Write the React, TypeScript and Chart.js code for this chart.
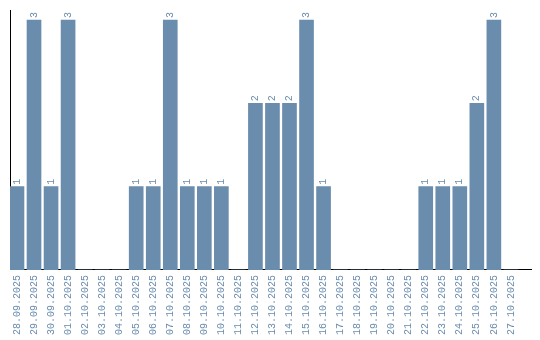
import React, { useEffect, useRef } from "react";
import { Chart, registerables } from "chart.js";

Chart.register(...registerables);

const categories: string[] = [
  "28.09.2025", "29.09.2025", "30.09.2025", "01.10.2025", "02.10.2025",
  "03.10.2025", "04.10.2025", "05.10.2025", "06.10.2025", "07.10.2025",
  "08.10.2025", "09.10.2025", "10.10.2025", "11.10.2025", "12.10.2025",
  "13.10.2025", "14.10.2025", "15.10.2025", "16.10.2025", "17.10.2025",
  "18.10.2025", "19.10.2025", "20.10.2025", "21.10.2025", "22.10.2025",
  "23.10.2025", "24.10.2025", "25.10.2025", "26.10.2025", "27.10.2025",
];

const counts: number[] = [
  1, 3, 1, 3, 0,
  0, 0, 1, 1, 3,
  1, 1, 1, 0, 2,
  2, 2, 3, 1, 0,
  0, 0, 0, 0, 1,
  1, 1, 2, 3, 0,
];

const BAR_COLOR = "#6a8cad";
const TEXT_COLOR = "#6a8cad";
const FONT = "'Liberation Mono', monospace";

const valueLabels = {
  id: "valueLabels",
  afterDatasetsDraw(chart: any) {
    const ctx = chart.ctx;
    const meta = chart.getDatasetMeta(0);
    ctx.save();
    ctx.fillStyle = TEXT_COLOR;
    ctx.font = `10px ${FONT}`;
    ctx.textAlign = "left";
    ctx.textBaseline = "middle";
    meta.data.forEach((bar: any, i: number) => {
      const v = counts[i];
      if (!v) return;
      ctx.save();
      ctx.translate(bar.x, bar.y - 2);
      ctx.rotate(-Math.PI / 2);
      ctx.fillText(String(v), 0, 0);
      ctx.restore();
    });
    ctx.restore();
  },
};

export default function App() {
  const ref = useRef<HTMLCanvasElement>(null);
  useEffect(() => {
    document.body.style.margin = "0";
    const chart = new Chart(ref.current!, {
      type: "bar",
      data: {
        datasets: [
          {
            data: counts.map((v, i) => ({ x: i, y: v })),
            backgroundColor: BAR_COLOR,
            borderWidth: 0,
            barThickness: 14,
          },
        ],
      },
      options: {
        animation: false,
        responsive: false,
        layout: { padding: { left: 10, top: 10, right: 9, bottom: 0 } },
        plugins: { legend: { display: false }, tooltip: { enabled: false } },
        scales: {
          x: {
            type: "linear",
            offset: false,
            min: -0.41,
            max: 30.18,
            afterBuildTicks: (scale: any) => {
              scale.ticks = scale.ticks.filter(
                (t: any) => Number.isInteger(t.value) && t.value >= 0 && t.value < categories.length
              );
            },
            grid: { display: false, drawTicks: false },
            border: { display: true, color: "#000", width: 1 },
            ticks: {
              stepSize: 1,
              autoSkip: false,
              includeBounds: false,
              maxRotation: 90,
              minRotation: 90,
              padding: 5,
              color: TEXT_COLOR,
              font: { family: FONT, size: 10 },
              callback: (value: any) =>
                Number.isInteger(value) && value >= 0 && value < categories.length
                  ? categories[value]
                  : "",
            },
          },
          y: {
            min: 0,
            max: 3.12,
            grid: { display: false, drawTicks: false },
            border: { display: true, color: "#000", width: 1 },
            ticks: { display: false },
          },
        },
      },
      plugins: [valueLabels],
    });
    return () => chart.destroy();
  }, []);
  return (
    <div style={{ position: "absolute", left: 0, top: 0, width: 540, height: 340 }}>
      <canvas ref={ref} width={540} height={340} />
    </div>
  );
}
